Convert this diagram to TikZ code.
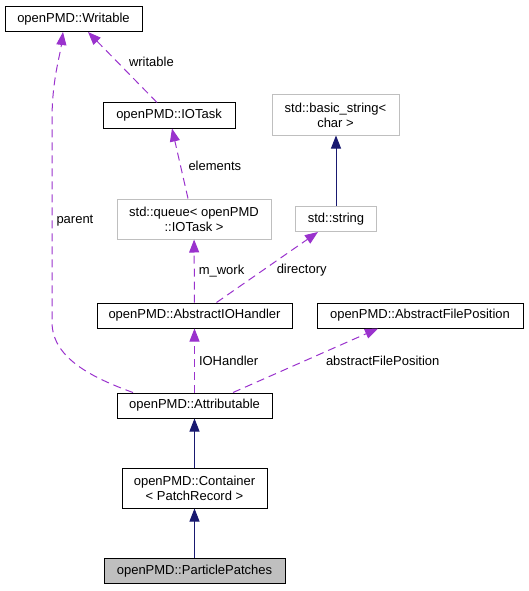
\documentclass[tikz,border=0pt]{standalone}
\usepackage{fontspec}
\setmainfont{Liberation Sans}
\usetikzlibrary{arrows.meta}
\definecolor{inhblue}{HTML}{191970}
\definecolor{usepurple}{HTML}{9A32CD}
\definecolor{boxgrey}{HTML}{BFBFBF}
\begin{document}
\begin{tikzpicture}[x=1pt,y=-1pt,
  cls/.style={draw=black,fill=white,line width=1pt,inner sep=0pt,minimum height=25,align=center,font=\fontsize{13}{15}\selectfont},
  ext/.style={cls,draw=boxgrey},
  inh/.style={draw=inhblue,line width=1pt,-{Triangle[length=13pt,width=10pt]}},
  use/.style={draw=usepurple,line width=1pt,dash pattern=on 8pt off 5pt,-{Triangle[length=13pt,width=10pt,fill=usepurple,sep=0pt]}},
  lbl/.style={font=\fontsize{13}{15}\selectfont,inner sep=0pt,anchor=west}]
\useasboundingbox (0,0) rectangle (528,591);

\node[cls,minimum width=137] (wr) at (73.5,19) {openPMD::Writable};
\node[cls,minimum width=132] (iot) at (169,115.5) {openPMD::IOTask};
\node[ext,minimum width=127,minimum height=40] (bstr) at (335.5,115) {std::basic\_string<\\char >};
\node[ext,minimum width=154,minimum height=40] (queue) at (194,219) {std::queue< openPMD\\::IOTask >};
\node[ext,minimum width=81] (str) at (336,219) {std::string};
\node[cls,minimum width=195] (aioh) at (194.5,315.5) {openPMD::AbstractIOHandler};
\node[cls,minimum width=206] (afp) at (420,315.5) {openPMD::AbstractFilePosition};
\node[cls,minimum width=155] (attr) at (194.5,405.5) {openPMD::Attributable};
\node[cls,minimum width=145,minimum height=40] (cont) at (194.5,488) {openPMD::Container\\< PatchRecord >};
\node[cls,minimum width=181,fill=boxgrey] (pp) at (194.5,571) {openPMD::ParticlePatches};

% inheritance
\draw[inh] (pp) -- (cont);
\draw[inh] (cont) -- (attr);
\draw[inh] (str.north) -- (str.north |- bstr.south);

% members
\draw[use] (attr) -- node[lbl,xshift=4] {IOHandler} (aioh);
\draw[use] (aioh) -- node[lbl,xshift=4] {m\_work} (queue);
\draw[use] ([xshift=22]aioh.north) -- node[lbl,xshift=9,yshift=-3] {directory} ([xshift=-18]str.south);
\draw[use] ([xshift=38.5]attr.north) -- node[lbl,xshift=20] {abstractFilePosition} ([xshift=-42]afp.south);
\draw[use] ([xshift=-6]queue.north) -- node[lbl,xshift=8,yshift=-2] {elements} ([xshift=3]iot.south);
\draw[use] ([xshift=-12]iot.north) -- node[lbl,xshift=6,yshift=5] {writable} ([xshift=14.5]wr.south);
\draw[use] ([xshift=-61.5]attr.north) .. controls (90,377) and (52,357) .. (52,322)
  -- node[lbl,xshift=4] {parent} (52,120) .. controls (52,80) and (60,56) .. ([xshift=-10.5]wr.south);
\end{tikzpicture}
\end{document}
